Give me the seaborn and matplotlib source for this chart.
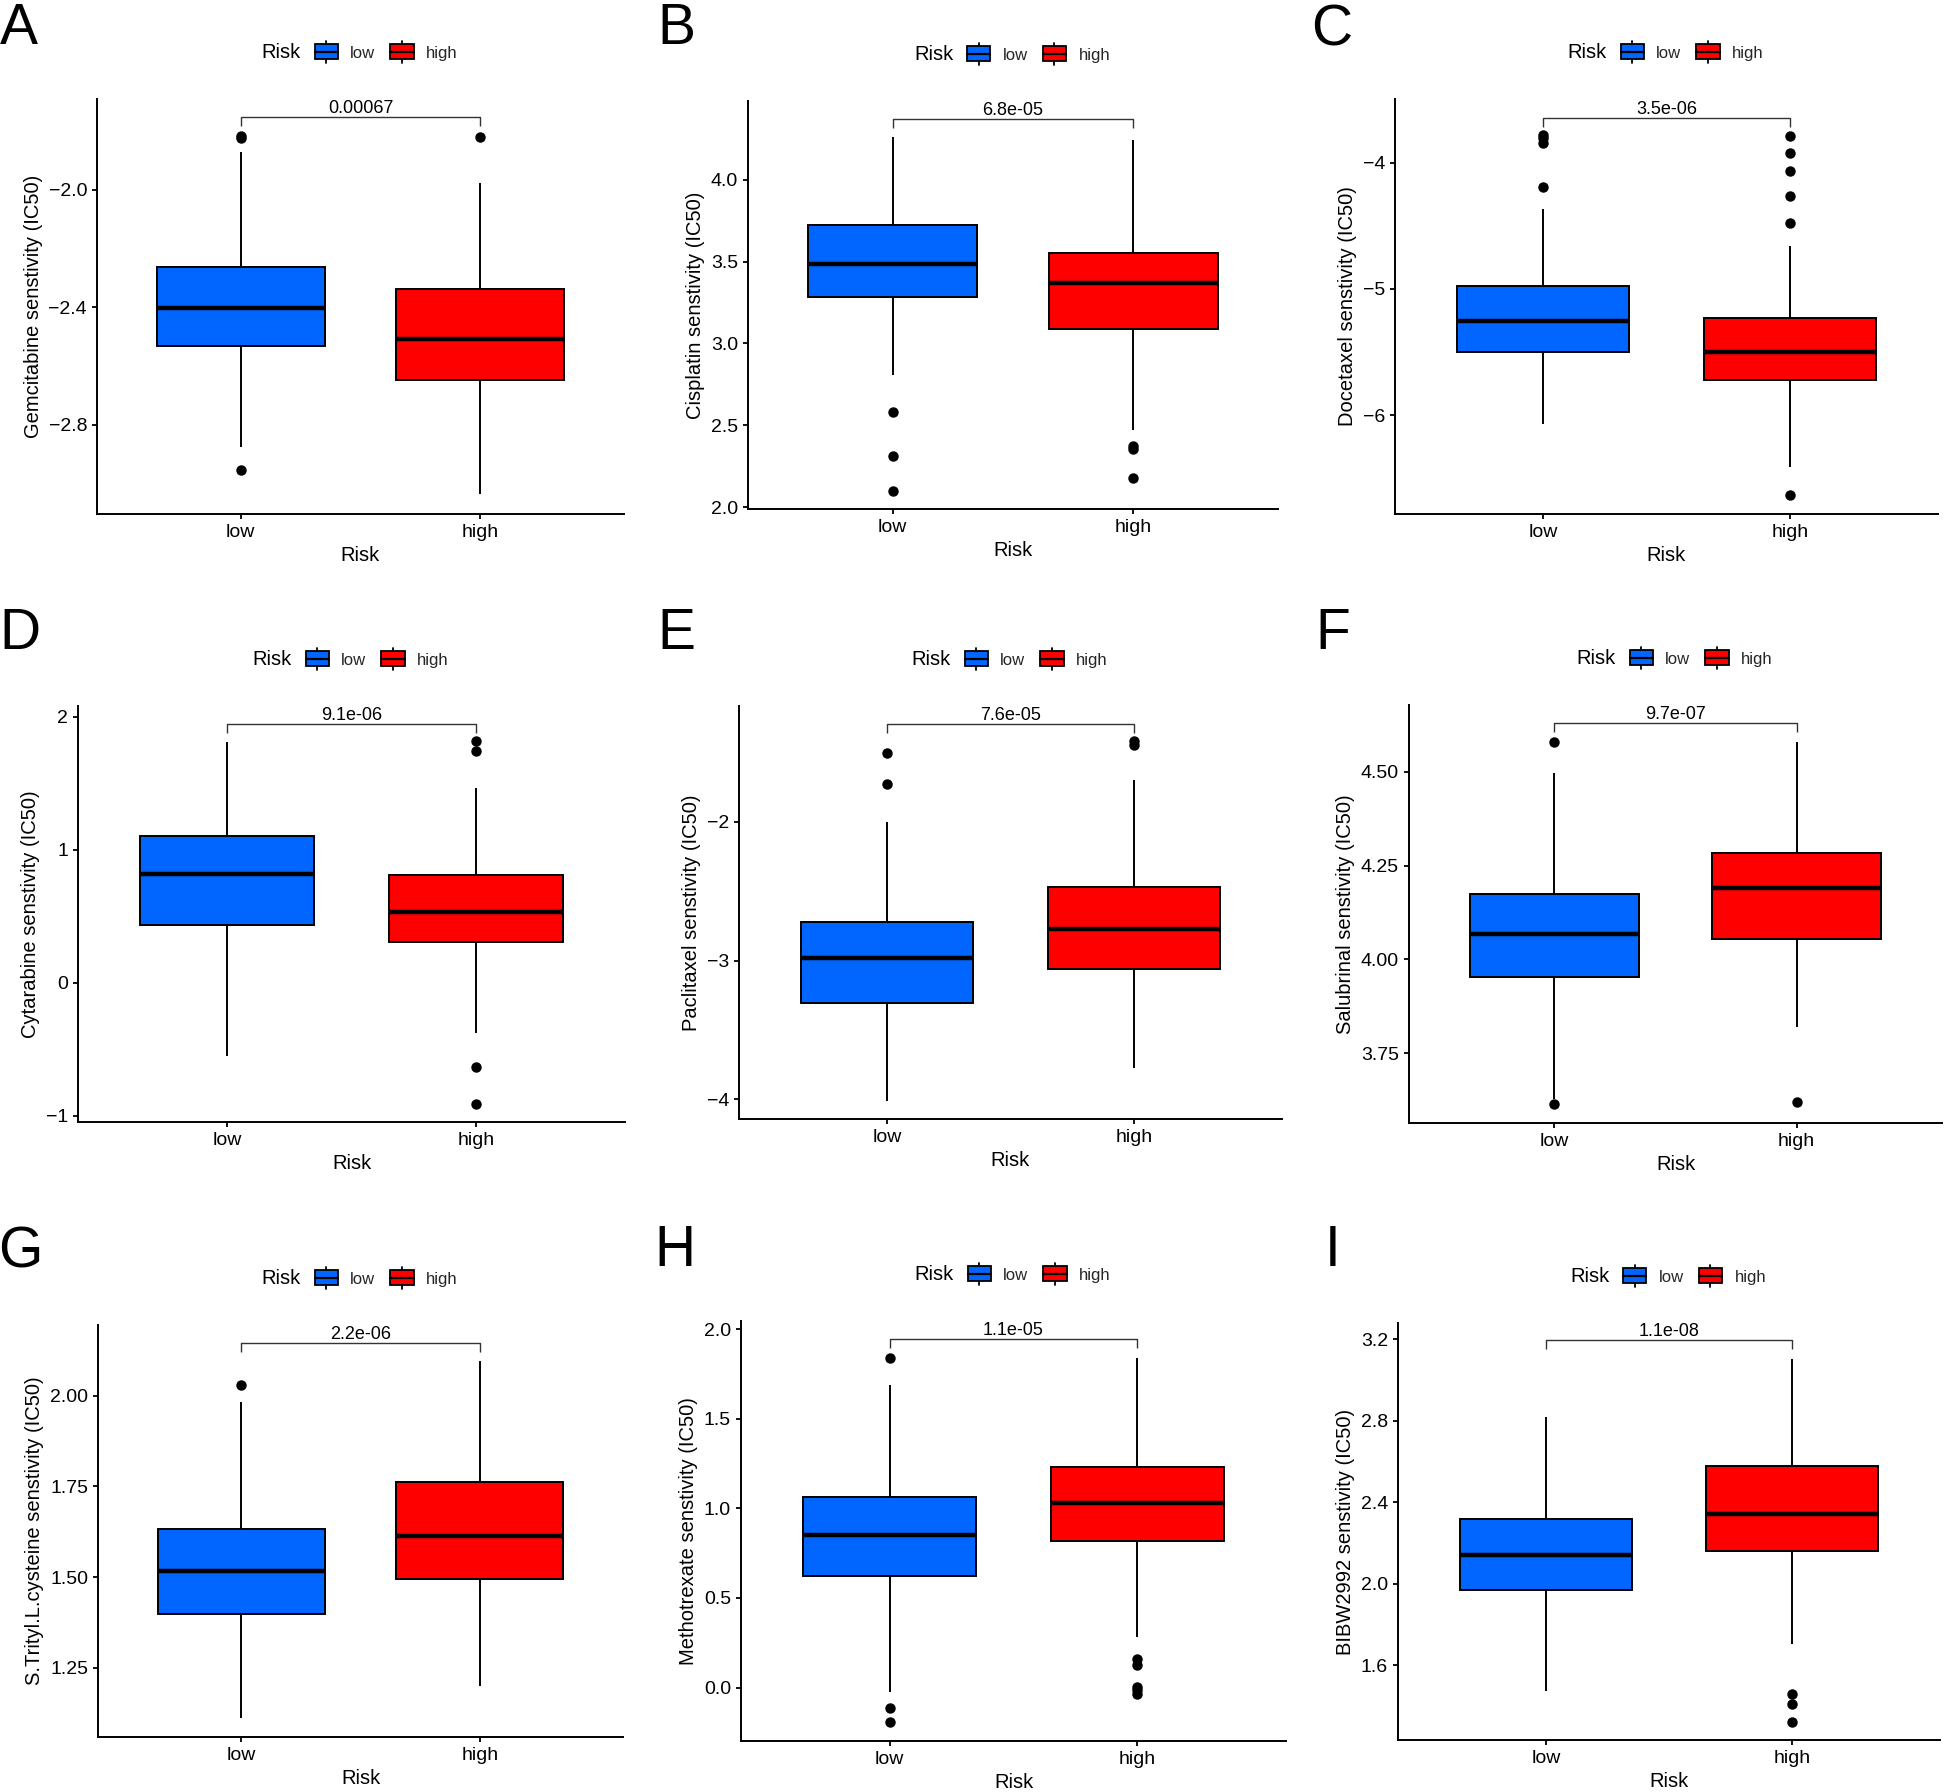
import numpy as np
import pandas as pd
import matplotlib
matplotlib.use("Agg")
import matplotlib.pyplot as plt
import seaborn as sns
from matplotlib.legend_handler import HandlerBase
from matplotlib.patches import Rectangle, Patch
from matplotlib.lines import Line2D

# ---------------- data ----------------
panel_letters = ["A", "B", "C", "D", "E", "F", "G", "H", "I"]
drugs = ["Gemcitabine", "Cisplatin", "Docetaxel", "Cytarabine", "Paclitaxel",
         "Salubrinal", "S.Trityl.L.cysteine", "Methotrexate", "BIBW2992"]
p_labels = ["0.00067", "6.8e-05", "3.5e-06", "9.1e-06", "7.6e-05",
            "9.7e-07", "2.2e-06", "1.1e-05", "1.1e-08"]
groups = ["low", "high"]

# five-number summaries: [lower whisker, Q1, median, Q3, upper whisker]
low_summary = [
    [-2.875, -2.533, -2.401, -2.264, -1.870],
    [2.81, 3.286, 3.482, 3.723, 4.26],
    [-6.07, -5.50, -5.25, -4.98, -4.367],
    [-0.55, 0.431, 0.816, 1.103, 1.81],
    [-4.013, -3.307, -2.981, -2.723, -2.0],
    [3.628, 3.953, 4.069, 4.174, 4.497],
    [1.112, 1.397, 1.517, 1.632, 1.982],
    [-0.023, 0.621, 0.853, 1.065, 1.687],
    [1.474, 1.970, 2.140, 2.316, 2.818],
]
high_summary = [
    [-3.038, -2.648, -2.507, -2.337, -1.977],
    [2.473, 3.087, 3.369, 3.553, 4.24],
    [-6.41, -5.72, -5.50, -5.23, -4.66],
    [-0.376, 0.307, 0.535, 0.81, 1.463],
    [-3.773, -3.061, -2.773, -2.469, -1.701],
    [3.820, 4.054, 4.191, 4.284, 4.579],
    [1.20, 1.495, 1.614, 1.761, 2.095],
    [0.283, 0.817, 1.03, 1.230, 1.837],
    [1.702, 2.158, 2.343, 2.576, 3.102],
]
low_outliers = [
    [-1.815, -1.822, -2.956],
    [2.584, 2.313, 2.10],
    [-3.78, -3.80, -3.84, -4.19],
    [],
    [-1.507, -1.726],
    [4.580, 3.614],
    [2.030],
    [1.838, -0.112, -0.19],
    [],
]
high_outliers = [
    [-1.82],
    [2.376, 2.358, 2.178],
    [-3.785, -3.92, -4.064, -4.264, -4.48, -6.634],
    [1.814, 1.741, -0.63, -0.91],
    [-1.421, -1.445],
    [3.619],
    [],
    [0.157, 0.126, 0.004, -0.015, -0.037],
    [1.459, 1.407, 1.321],
]
bracket_y = [-1.751, 4.368, -3.641, 1.944, -1.294, 4.630, 2.145, 1.943, 3.196]
y_limits = [(-3.105, -1.690), (1.989, 4.480), (-6.784, -3.494), (-1.047, 2.080),
            (-4.142, -1.166), (3.564, 4.678), (1.059, 2.195), (-0.298, 2.045),
            (1.232, 3.280)]
y_ticks = [[-2.8, -2.4, -2.0], [2.0, 2.5, 3.0, 3.5, 4.0], [-6, -5, -4], [-1, 0, 1, 2],
           [-4, -3, -2], [3.75, 4.00, 4.25, 4.50], [1.25, 1.50, 1.75, 2.00],
           [0.0, 0.5, 1.0, 1.5, 2.0], [1.6, 2.0, 2.4, 2.8, 3.2]]
y_ticklabels = [["\u22122.8", "\u22122.4", "\u22122.0"],
                ["2.0", "2.5", "3.0", "3.5", "4.0"],
                ["\u22126", "\u22125", "\u22124"],
                ["\u22121", "0", "1", "2"],
                ["\u22124", "\u22123", "\u22122"],
                ["3.75", "4.00", "4.25", "4.50"],
                ["1.25", "1.50", "1.75", "2.00"],
                ["0.0", "0.5", "1.0", "1.5", "2.0"],
                ["1.6", "2.0", "2.4", "2.8", "3.2"]]

palette = {"low": "#0066FF", "high": "#FF0000"}

# ---------------- layout (pixels in the 1944x1792 canvas) ----------------
W, H = 1944, 1792
axes_px = [(97, 99, 624, 514), (748, 101, 1278, 509), (1395, 99, 1938, 514),
           (78, 706, 625, 1122), (739, 706, 1282, 1119), (1409, 705, 1942, 1123),
           (98, 1325, 623, 1737), (741, 1321, 1286, 1741), (1398, 1323, 1940, 1740)]
letter_px = [(0, 44), (657, 44), (1311, 46), (-1, 649), (657, 649), (1315, 649),
             (-2, 1267), (654, 1266), (1325, 1266)]


def box_values(summary, outliers):
    """Expand a five-number summary plus outliers into values whose
    quartiles/whiskers reproduce the summary exactly."""
    wl, q1, med, q3, wh = summary
    lo = sorted(v for v in outliers if v < q1)
    hi = sorted(v for v in outliers if v > q3)
    k = max(len(lo), len(hi)) + 2
    return (lo + [wl] * (k - len(lo)) + [q1] * k + [med] * k + [q3]
            + [wh] * (k - len(hi)) + hi)


class BoxKey(HandlerBase):
    def create_artists(self, legend, orig_handle, xdescent, ydescent,
                       width, height, fontsize, trans):
        x0, y0 = -xdescent, -ydescent
        fc = orig_handle.get_facecolor()
        cx = x0 + width / 2
        stub = 2.7
        up = Line2D([cx, cx], [y0 + height, y0 + height + stub], color="black",
                    lw=1.3, transform=trans)
        dn = Line2D([cx, cx], [y0 - stub, y0], color="black", lw=1.3, transform=trans)
        rect = Rectangle((x0, y0), width, height, facecolor=fc, edgecolor="black",
                         linewidth=1.3, transform=trans)
        med = Line2D([x0, x0 + width], [y0 + height / 2] * 2, color="black",
                     lw=1.6, transform=trans)
        return [up, dn, rect, med]


sns.set_theme(style="ticks")
plt.rcParams["font.family"] = ["Liberation Sans", "DejaVu Sans"]
plt.rcParams["axes.unicode_minus"] = True

fig = plt.figure(figsize=(W / 100, H / 100), dpi=100)
fig.patch.set_facecolor("white")

for i in range(9):
    x0, y0, x1, y1 = axes_px[i]
    ax = fig.add_axes([x0 / W, 1 - y1 / H, (x1 - x0) / W, (y1 - y0) / H])
    lv = box_values(low_summary[i], low_outliers[i])
    hv = box_values(high_summary[i], high_outliers[i])
    df = pd.DataFrame({"Risk": ["low"] * len(lv) + ["high"] * len(hv),
                       "value": lv + hv})
    sns.boxplot(data=df, x="Risk", y="value", hue="Risk", order=groups,
                hue_order=groups, palette=palette, width=0.7, saturation=1,
                linecolor="black", linewidth=1.4, showcaps=False, fliersize=6.5,
                flierprops=dict(marker="o", markerfacecolor="black",
                                markeredgecolor="black", markersize=6.5),
                medianprops=dict(color="black", linewidth=3.2),
                whiskerprops=dict(color="black", linewidth=1.4),
                legend=False, ax=ax)
    ax.set_xlim(-0.6, 1.6)
    ylo, yhi = y_limits[i]
    ax.set_ylim(ylo, yhi)
    ax.set_yticks(y_ticks[i])
    ax.set_yticklabels(y_ticklabels[i])
    ax.set_facecolor("white")
    sns.despine(ax=ax)
    for s in ["left", "bottom"]:
        ax.spines[s].set_color("black")
        ax.spines[s].set_linewidth(1.4)
    ax.tick_params(axis="both", length=3.7, width=1.3, color="black",
                   labelsize=14, labelcolor="black", pad=3.5)
    ax.set_xlabel("Risk", fontsize=14.5, labelpad=3.5, color="black")
    ax.set_ylabel(f"{drugs[i]} senstivity (IC50)", fontsize=14.5, labelpad=4,
                  color="black")

    # significance bracket
    yb = bracket_y[i]
    tip = (yhi - ylo) * 9 / (y1 - y0)
    ax.plot([0, 0, 1, 1], [yb - tip, yb, yb, yb - tip], color="#333333", lw=1.0,
            solid_capstyle="butt")
    ax.annotate(p_labels[i], xy=(0.5, yb), xycoords="data", xytext=(0, 2.9),
                textcoords="offset points", ha="center", va="baseline",
                fontsize=13, color="black")

    # legend above the panel
    cx = (x0 + x1) / 2
    ly = y0 - 46.5
    fig.text((cx - 99) / W, 1 - ly / H, "Risk", ha="left", va="center",
             fontsize=14.5, color="black")
    handles = [Patch(facecolor=palette[g], edgecolor="black") for g in groups]
    ax.legend(handles=handles, labels=groups, loc="center left",
              bbox_to_anchor=((cx - 46) / W, 1 - ly / H),
              bbox_transform=fig.transFigure, ncol=2, frameon=False,
              fontsize=12, handlelength=1.4, handleheight=1.0,
              handletextpad=0.74, columnspacing=0.9, borderpad=0,
              borderaxespad=0, handler_map={Patch: BoxKey()})

    lx, lyb = letter_px[i]
    fig.text(lx / W, 1 - lyb / H, panel_letters[i], ha="left", va="baseline",
             fontsize=41, color="black")

fig.savefig("out.png", dpi=100, facecolor="white")
